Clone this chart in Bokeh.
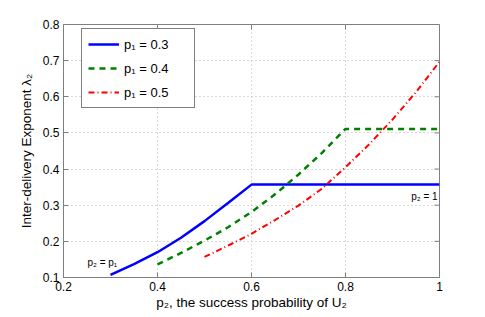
from bokeh.plotting import figure
from bokeh.models import Range1d, FixedTicker, Legend, LegendItem
from bokeh.core.properties import value
from bokeh.embed import file_html
from bokeh.resources import INLINE

# ---- data ----
p2_a = [0.30, 0.35, 0.40, 0.45, 0.50, 0.55, 0.60, 1.00]
lam_a = [0.107, 0.137, 0.170, 0.210, 0.256, 0.306, 0.357, 0.357]

p2_b = [0.40, 0.45, 0.50, 0.55, 0.60, 0.65, 0.70, 0.75, 0.80, 1.00]
lam_b = [0.136, 0.168, 0.202, 0.239, 0.281, 0.330, 0.385, 0.445, 0.511, 0.511]

p2_c = [0.50, 0.55, 0.60, 0.65, 0.70, 0.75, 0.80, 0.85, 0.90, 0.95, 1.00]
lam_c = [0.157, 0.188, 0.221, 0.259, 0.299, 0.346, 0.405, 0.468, 0.537, 0.613, 0.697]

series_labels = ["p\u2081 = 0.3", "p\u2081 = 0.4", "p\u2081 = 0.5"]
x_ticks = [0.2, 0.4, 0.6, 0.8, 1.0]
x_tick_labels = ["0.2", "0.4", "0.6", "0.8", "1"]
y_ticks = [0.1, 0.2, 0.3, 0.4, 0.5, 0.6, 0.7, 0.8]
y_tick_labels = ["0.1", "0.2", "0.3", "0.4", "0.5", "0.6", "0.7", "0.8"]
notes = ["p\u2082 = p\u2081", "p\u2082 = 1"]

FONT = "Liberation Sans"
FRAME = "#7f7f7f"
X0, X1, Y0, Y1 = 0.2, 1.0, 0.1, 0.8

p = figure(width=477, height=313, output_backend="svg", toolbar_location=None,
           x_range=Range1d(X0, X1), y_range=Range1d(Y0, Y1),
           min_border_left=63, min_border_right=38, min_border_top=24,
           min_border_bottom=36)
p.outline_line_color = FRAME
p.outline_line_width = 1

for ax, ticks, labels in ((p.xaxis[0], x_ticks, x_tick_labels),
                          (p.yaxis[0], y_ticks, y_tick_labels)):
    ax.ticker = FixedTicker(ticks=ticks)
    ax.major_label_overrides = {t: l for t, l in zip(ticks, labels)}
    ax.major_tick_in = 5
    ax.major_tick_out = 0
    ax.minor_tick_line_color = None
    ax.axis_line_color = FRAME
    ax.major_tick_line_color = FRAME
    ax.major_label_text_font = FONT
    ax.major_label_text_font_size = "12px"
    ax.major_label_text_color = "black"
    ax.axis_label_text_font = FONT
    ax.axis_label_text_font_size = "13.5px"
    ax.axis_label_text_font_style = "normal"
    ax.axis_label_text_color = "black"

p.xaxis[0].axis_label = "p\u2082, the success probability of U\u2082"
p.yaxis[0].axis_label = "Inter-delivery Exponent \u03bb\u2082"
p.xaxis[0].major_label_standoff = 4
p.xaxis[0].axis_label_standoff = 1
p.yaxis[0].major_label_standoff = 4
p.yaxis[0].axis_label_standoff = 6

# inward ticks on the top and right edges of the frame
tick_dx = 5 * (X1 - X0) / 376
tick_dy = 5 * (Y1 - Y0) / 253
p.segment(x0=x_ticks, x1=x_ticks, y0=[Y1] * len(x_ticks), y1=[Y1 - tick_dy] * len(x_ticks),
          line_color=FRAME, line_width=1)
p.segment(x0=[X1] * len(y_ticks), x1=[X1 - tick_dx] * len(y_ticks), y0=y_ticks, y1=y_ticks,
          line_color=FRAME, line_width=1)

p.xgrid.ticker = FixedTicker(ticks=x_ticks)
p.ygrid.ticker = FixedTicker(ticks=y_ticks)
for g in (p.xgrid[0], p.ygrid[0]):
    g.grid_line_color = "#b5b5b5"
    g.grid_line_dash = "1 3"
    g.grid_line_width = 1

r1 = p.line(p2_a, lam_a, line_color="#0000ff", line_width=2.5)
r2 = p.line(p2_b, lam_b, line_color="#008000", line_width=2.5, line_dash="6 5")
r3 = p.line(p2_c, lam_c, line_color="#ff0000", line_width=2, line_dash="6 3 1 3")

p.text(x=[0.251], y=[0.1415], text=[notes[0]], text_font=value(FONT),
       text_font_size="10px", text_align="left", text_baseline="middle", text_color="black")
p.text(x=[0.996], y=[0.324], text=[notes[1]], text_font=value(FONT),
       text_font_size="10px", text_align="right", text_baseline="middle", text_color="black")

legend = Legend(items=[LegendItem(label=series_labels[0], renderers=[r1]),
                       LegendItem(label=series_labels[1], renderers=[r2]),
                       LegendItem(label=series_labels[2], renderers=[r3])],
                location=(18, 169))
legend.label_text_font = FONT
legend.label_text_font_size = "13px"
legend.label_text_color = "black"
legend.border_line_color = "black"
legend.border_line_width = 1
legend.background_fill_color = "white"
legend.background_fill_alpha = 1
legend.padding = 6
legend.spacing = 6
legend.margin = 0
legend.glyph_width = 31
legend.glyph_height = 18
legend.label_height = 18
legend.label_width = 64
legend.label_standoff = 5
p.add_layout(legend, "center")

open("out.html", "w").write(file_html(p, INLINE))
